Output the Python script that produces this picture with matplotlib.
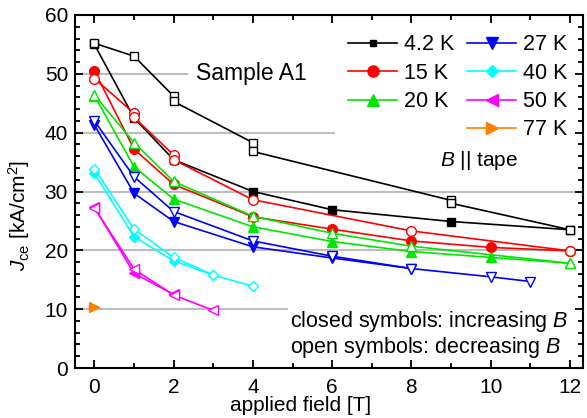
import matplotlib
matplotlib.use("Agg")
import matplotlib.pyplot as plt
from matplotlib.lines import Line2D
from matplotlib.ticker import MultipleLocator

plt.rcParams['font.family'] = ['Liberation Sans', 'DejaVu Sans']
plt.rcParams['mathtext.fontset'] = 'custom'
plt.rcParams['mathtext.rm'] = 'Liberation Sans'
plt.rcParams['mathtext.it'] = 'Liberation Sans:italic'

# ---- data: closed symbols = increasing B, open symbols = decreasing B ----
temps = ['4.2 K', '15 K', '20 K', '27 K', '40 K', '50 K', '77 K']
colors = ['#000000', '#ff0000', '#00e600', '#0000ff', '#00ffff', '#ff00ff', '#ff8000']
markers = ['s', 'o', '^', 'v', 'D', '<', '>']

x_42_up = [0, 1, 2, 4, 6, 9, 12]
y_42_up = [55.0, 42.5, 35.4, 30.0, 26.9, 24.9, 23.5]
x_42_dn = [0, 1, 2, 2, 4, 4, 9, 9, 12]
y_42_dn = [55.2, 53.0, 46.2, 45.3, 38.3, 36.8, 28.5, 28.0, 23.5]

x_15_up = [0, 1, 2, 4, 6, 8, 10, 12]
y_15_up = [50.5, 37.2, 31.2, 25.7, 23.6, 21.6, 20.5, 19.9]
x_15_dn = [0, 1, 1, 2, 2, 4, 8, 12]
y_15_dn = [49.2, 43.3, 42.6, 36.2, 35.4, 28.6, 23.3, 19.9]

x_20_up = [0, 1, 2, 4, 6, 8, 10, 12]
y_20_up = [46.3, 34.2, 28.7, 24.0, 21.5, 19.8, 18.8, 17.8]
x_20_dn = [0, 1, 2, 4, 6, 8, 12]
y_20_dn = [46.4, 38.3, 31.7, 25.8, 22.9, 20.7, 17.8]

x_27_up = [0, 1, 2, 4, 6, 8]
y_27_up = [41.3, 29.7, 24.9, 20.6, 18.7, 16.9]
x_27_dn = [0, 1, 2, 4, 6, 8, 10, 11]
y_27_dn = [42.0, 32.5, 26.6, 21.6, 19.0, 16.9, 15.5, 14.7]

x_40_up = [0, 1, 2, 3]
y_40_up = [33.1, 22.3, 18.2, 15.8]
x_40_dn = [0, 1, 2, 3, 4]
y_40_dn = [33.9, 23.6, 18.8, 15.8, 13.9]

x_50_up = [0, 1, 2]
y_50_up = [27.3, 16.1, 12.5]
x_50_dn = [0, 1, 2, 3]
y_50_dn = [27.2, 16.8, 12.4, 9.8]

x_77_up = [0]
y_77_up = [10.4]

series_up = [(x_42_up, y_42_up), (x_15_up, y_15_up), (x_20_up, y_20_up),
             (x_27_up, y_27_up), (x_40_up, y_40_up), (x_50_up, y_50_up),
             (x_77_up, y_77_up)]
series_dn = [(x_42_dn, y_42_dn), (x_15_dn, y_15_dn), (x_20_dn, y_20_dn),
             (x_27_dn, y_27_dn), (x_40_dn, y_40_dn), (x_50_dn, y_50_dn),
             None]

msizes = [6.0, 7.0, 7.6, 7.6, 5.6, 7.6, 7.6]
leg_msizes = [5.0, 8.0, 8.4, 8.4, 6.5, 8.4, 8.4]

fig = plt.figure(figsize=(5.87, 4.18), dpi=100)
ax = fig.add_axes([75 / 587, 50 / 418, 508 / 587, 353 / 418])
xmin, xmax = -0.49, 12.33
ax.set_xlim(xmin, xmax)
ax.set_ylim(0, 60)

# partial horizontal grid lines (interrupted by annotations)
grid_y = [50, 40, 30, 20, 10]
grid_xend = [2.36, 6.07, xmax, xmax, 4.88]
for gy, ge in zip(grid_y, grid_xend):
    ax.hlines(gy, xmin, ge, colors='#bdbdbd', linewidth=1.5, zorder=1)

for i in range(len(temps)):
    xu, yu = series_up[i]
    ax.plot(xu, yu, color=colors[i], marker=markers[i], ms=msizes[i],
            mfc=colors[i], mec=colors[i], mew=1.0, lw=1.2, zorder=3)
    if series_dn[i] is not None:
        xd, yd = series_dn[i]
        ax.plot(xd, yd, color=colors[i], marker=markers[i], ms=msizes[i],
                mfc='white', mec=colors[i], mew=1.0, lw=1.2, zorder=3)

# legend (3 + 4 layout)
handles = []
labels = []
order = [0, 1, 2, None, 3, 4, 5, 6]
for k in order:
    if k is None:
        handles.append(Line2D([], [], linestyle='none', marker='none'))
        labels.append('')
    else:
        handles.append(Line2D([], [], color=colors[k], marker=markers[k],
                              ms=leg_msizes[k], mfc=colors[k], mec=colors[k],
                              lw=1.2))
        labels.append(temps[k])
ax.legend(handles, labels, ncol=2, loc='upper left',
          bbox_to_anchor=(0.537, 0.945), frameon=False, fontsize=15.5,
          borderpad=0, borderaxespad=0, handlelength=2.3,
          handletextpad=0.3, columnspacing=0.6, labelspacing=0.34)

ax.text(2.56, 50, 'Sample A1', fontsize=16.5, va='center', ha='left')
ax.text(8.72, 34.4, r'$B$ || tape', fontsize=15, va='baseline', ha='left')
ax.text(4.94, 7.0, r'closed symbols: increasing $B$', fontsize=15.5,
        va='baseline', ha='left')
ax.text(4.94, 2.6, r'open symbols: decreasing $B$', fontsize=15.5,
        va='baseline', ha='left')

ax.xaxis.set_major_locator(MultipleLocator(2))
ax.xaxis.set_minor_locator(MultipleLocator(1))
ax.yaxis.set_major_locator(MultipleLocator(10))
ax.yaxis.set_minor_locator(MultipleLocator(2))
ax.tick_params(which='both', direction='in', top=True, right=True,
               width=1.3, labelsize=15)
ax.tick_params(which='major', length=6)
ax.tick_params(which='minor', length=3.5)
ax.tick_params(axis='x', which='major', pad=7.5)
ax.tick_params(axis='y', which='major', pad=5)
for s in ax.spines.values():
    s.set_linewidth(1.5)

ax.set_xlabel('applied field [T]', fontsize=15)
ax.set_ylabel(r'$J_{\rm ce}$ [kA/cm$^2$]', fontsize=15)
ax.xaxis.set_label_coords(0.445, -0.08)
ax.yaxis.set_label_coords(-0.085, 0.433)

fig.savefig('out.png', dpi=100)
